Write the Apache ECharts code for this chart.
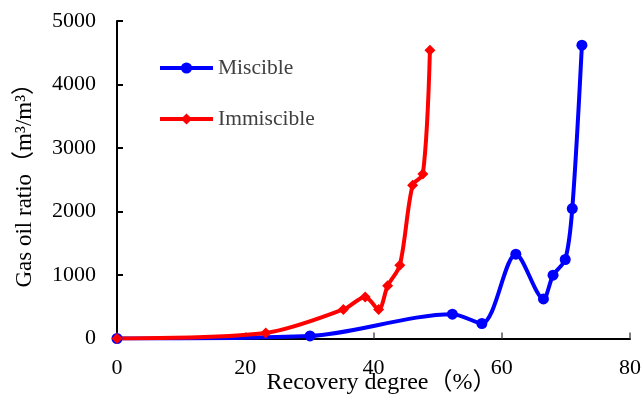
<!DOCTYPE html>
<html>
<head>
<meta charset="utf-8">
<script src="https://cdn.jsdelivr.net/npm/echarts@6/dist/echarts.min.js"></script>
<style>
  html, body { margin: 0; padding: 0; background: #fff; }
  #chart { width: 643px; height: 394px; }
</style>
</head>
<body>
<div id="chart"></div>
<script>
// Recovery degree (%) vs gas oil ratio (m3/m3)
const miscibleX = [0, 30.1, 52.3, 56.9, 62.2, 66.5, 68.0, 69.9, 71.0, 72.5];
const miscibleY = [0, 40, 383, 236, 1328, 624, 997, 1244, 2047, 4619];
const immiscibleX = [0, 23.2, 35.3, 38.7, 40.8, 42.2, 44.1, 46.1, 47.7, 48.8];
const immiscibleY = [0, 88, 457, 655, 457, 829, 1154, 2414, 2590, 4540];
const seriesNames = ['Miscible', 'Immiscible'];

const pairs = (xs, ys) => xs.map((x, i) => [x, ys[i]]);
const FONT = '"Liberation Serif", "Times New Roman", "Noto Sans CJK SC", serif';

const chart = echarts.init(document.getElementById('chart'), null, { renderer: 'canvas' });
chart.setOption({
  animation: false,
  backgroundColor: '#ffffff',
  grid: { left: 117, right: 13, top: 21, bottom: 55.5, containLabel: false, outerBoundsMode: 'none' },
  legend: {
    orient: 'vertical',
    left: 153,
    top: 51,
    itemWidth: 53,
    itemHeight: 14,
    itemGap: 27,
    data: seriesNames,
    lineStyle: { width: 4 },
    textStyle: { fontFamily: FONT, fontSize: 21.5, color: '#404040', lineHeight: 24 }
  },
  xAxis: {
    type: 'value',
    min: 0, max: 80, interval: 20,
    name: 'Recovery degree（%）',
    nameLocation: 'middle',
    nameGap: 32,
    nameMoveOverlap: false,
    nameTextStyle: { fontFamily: FONT, fontSize: 24, color: '#000', padding: [0, 0, 0, 16] },
    axisLine: { show: true, lineStyle: { color: '#000', width: 2 } },
    axisTick: { show: true, inside: true, length: 6, lineStyle: { color: '#555', width: 1.5 } },
    axisLabel: { fontFamily: FONT, fontSize: 22, color: '#000', margin: 19 },
    splitLine: { show: false }
  },
  yAxis: {
    type: 'value',
    min: 0, max: 5000, interval: 1000,
    name: 'Gas oil ratio（m³/m³）',
    nameLocation: 'middle',
    nameGap: 81,
    nameMoveOverlap: false,
    nameTextStyle: { fontFamily: FONT, fontSize: 23, color: '#000' },
    axisLine: { show: true, lineStyle: { color: '#000', width: 2 } },
    axisTick: { show: true, inside: true, length: 6, lineStyle: { color: '#000', width: 2 } },
    axisLabel: { fontFamily: FONT, fontSize: 22, color: '#000', margin: 21, formatter: (v) => String(v) },
    splitLine: { show: false }
  },
  series: [
    {
      name: seriesNames[0],
      type: 'line',
      data: pairs(miscibleX, miscibleY),
      smooth: 0.3,
      symbol: 'circle',
      symbolSize: 11,
      lineStyle: { color: '#0000ff', width: 4 },
      itemStyle: { color: '#0000ff' }
    },
    {
      name: seriesNames[1],
      type: 'line',
      data: pairs(immiscibleX, immiscibleY),
      smooth: 0.3,
      symbol: 'diamond',
      symbolSize: 11,
      lineStyle: { color: '#ff0000', width: 4 },
      itemStyle: { color: '#ff0000' }
    }
  ]
});
</script>
</body>
</html>
